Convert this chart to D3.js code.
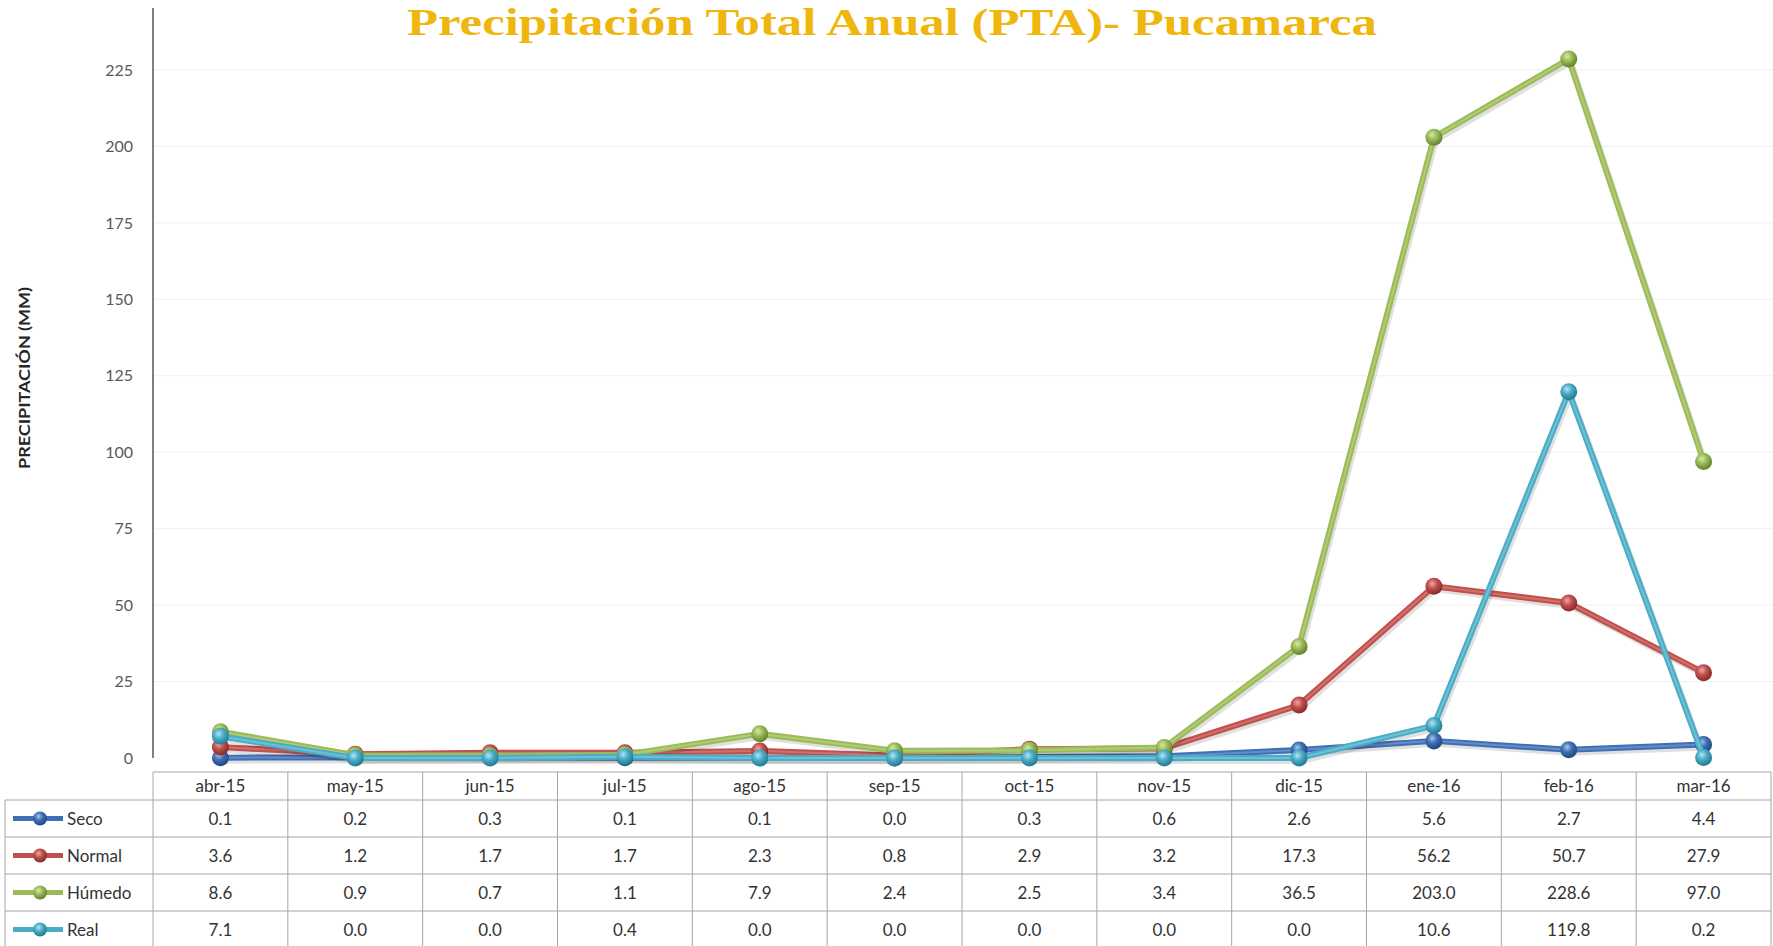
<!DOCTYPE html>
<html>
<head>
<meta charset="utf-8">
<script src="https://cdn.jsdelivr.net/npm/d3@7"></script>
<style>
  body { margin: 0; background: #fff; }
  svg { display: block; }
</style>
</head>
<body>
<svg id="chart" width="1773" height="946"></svg>
<script>
// data
var months = ['abr-15', 'may-15', 'jun-15', 'jul-15', 'ago-15', 'sep-15', 'oct-15', 'nov-15', 'dic-15', 'ene-16', 'feb-16', 'mar-16'];
var seco   = [0.1, 0.2, 0.3, 0.1, 0.1, 0.0, 0.3, 0.6, 2.6, 5.6, 2.7, 4.4];
var normal = [3.6, 1.2, 1.7, 1.7, 2.3, 0.8, 2.9, 3.2, 17.3, 56.2, 50.7, 27.9];
var humedo = [8.6, 0.9, 0.7, 1.1, 7.9, 2.4, 2.5, 3.4, 36.5, 203.0, 228.6, 97.0];
var real   = [7.1, 0.0, 0.0, 0.4, 0.0, 0.0, 0.0, 0.0, 0.0, 10.6, 119.8, 0.2];
var yTicks = [0, 25, 50, 75, 100, 125, 150, 175, 200, 225];

var seriesNames  = ['Seco', 'Normal', 'Húmedo', 'Real'];
var seriesColors = ['#3f6fb4', '#c0504d', '#9bbb59', '#4bacc6'];
var seriesDark   = ['#24467e', '#862a28', '#62802c', '#237a93'];
var seriesLight  = ['#a9c4ee', '#f0a8a6', '#d6eaa5', '#b3e6f4'];
var seriesValues = [seco, normal, humedo, real];

var series = seriesNames.map(function (n, i) {
	return { name: n, color: seriesColors[i], dark: seriesDark[i], light: seriesLight[i], values: seriesValues[i], id: i };
});

var svg = d3.select('svg#chart');
var W = 1773;

var plotLeft = 153, plotRight = 1771;
var x = d3.scaleBand().domain(months).range([plotLeft, plotRight]);
var y = d3.scaleLinear().domain([0, 225]).range([758, 70]);

// sphere gradients for markers
var defs = svg.append('defs');
series.forEach(function (s) {
	var g = defs.append('radialGradient')
		.attr('id', 'ball' + s.id)
		.attr('cx', '40%').attr('cy', '35%').attr('r', '65%');
	g.append('stop').attr('offset', '0%').attr('stop-color', s.light);
	g.append('stop').attr('offset', '45%').attr('stop-color', s.color);
	g.append('stop').attr('offset', '100%').attr('stop-color', s.dark);
});

// title (condensed serif look)
svg.append('text')
	.attr('x', 892)
	.attr('y', 35)
	.attr('text-anchor', 'middle')
	.attr('textLength', 970)
	.attr('lengthAdjust', 'spacingAndGlyphs')
	.style('font-family', '"Liberation Serif", "DejaVu Serif", serif')
	.style('font-weight', 'bold')
	.style('font-size', '38px')
	.style('fill', '#efb60e')
	.text('Precipitación Total Anual (PTA)- Pucamarca');

// gridlines
svg.append('g')
	.selectAll('line')
	.data(yTicks.filter(function (d) { return d > 0; }))
	.enter()
	.append('line')
	.attr('x1', plotLeft).attr('x2', W)
	.attr('y1', function (d) { return y(d); })
	.attr('y2', function (d) { return y(d); })
	.style('stroke', '#f0f0f0')
	.style('stroke-width', 1);

// y axis
var yAxis = d3.axisLeft(y).tickValues(yTicks).tickSize(0).tickPadding(20);
var gy = svg.append('g')
	.attr('transform', 'translate(' + plotLeft + ',0)')
	.call(yAxis);
gy.select('.domain').remove();
gy.selectAll('text')
	.style('font-family', 'Lato, "Open Sans", sans-serif')
	.style('font-size', '16px')
	.style('fill', '#595959');

svg.append('line')
	.attr('x1', plotLeft).attr('x2', plotLeft)
	.attr('y1', 8).attr('y2', y(0))
	.style('stroke', '#7f7f7f')
	.style('stroke-width', 2);

svg.append('text')
	.attr('transform', 'translate(30,' + 378 + ') rotate(-90)')
	.attr('text-anchor', 'middle')
	.attr('textLength', 182)
	.attr('lengthAdjust', 'spacingAndGlyphs')
	.style('font-family', 'Lato, "Open Sans", sans-serif')
	.style('font-weight', 'bold')
	.style('font-size', '15px')
	.style('fill', '#262626')
	.text('PRECIPITACIÓN (MM)');

// lines
var line = d3.line()
	.x(function (d, i) { return x(months[i]) + x.bandwidth() / 2; })
	.y(function (d) { return y(d); });

var groups = svg.selectAll('g.serie')
	.data(series)
	.enter()
	.append('g')
	.attr('class', 'serie');

groups.append('path')
	.attr('d', function (s) { return line(s.values); })
	.attr('transform', 'translate(2,3)')
	.style('fill', 'none')
	.style('stroke', '#000')
	.style('stroke-opacity', 0.12)
	.style('stroke-width', 6);

groups.append('path')
	.attr('d', function (s) { return line(s.values); })
	.style('fill', 'none')
	.style('stroke', function (s) { return s.color; })
	.style('stroke-width', 6)
	.style('stroke-linejoin', 'round');

groups.append('path')
	.attr('d', function (s) { return line(s.values); })
	.style('fill', 'none')
	.style('stroke', function (s) { return s.light; })
	.style('stroke-opacity', 0.35)
	.style('stroke-width', 2);

groups.selectAll('circle')
	.data(function (s) { return s.values.map(function (v, i) { return { v: v, i: i, s: s }; }); })
	.enter()
	.append('circle')
	.attr('cx', function (d) { return x(months[d.i]) + x.bandwidth() / 2; })
	.attr('cy', function (d) { return y(d.v); })
	.attr('r', 8.5)
	.style('fill', function (d) { return 'url(#ball' + d.s.id + ')'; });

// data table
var tableTop = 772, headH = 28, rowH = 37, legendLeft = 5;
var tbl = svg.append('g');
var borderColor = '#a6a6a6';
var tfont = 'Lato, "Open Sans", sans-serif';

// header row
tbl.append('line')
	.attr('x1', plotLeft).attr('x2', plotRight)
	.attr('y1', tableTop).attr('y2', tableTop)
	.style('stroke', borderColor);

tbl.selectAll('text.head')
	.data(months)
	.enter()
	.append('text')
	.attr('class', 'head')
	.attr('x', function (d) { return x(d) + x.bandwidth() / 2; })
	.attr('y', tableTop + headH / 2 + 6)
	.attr('text-anchor', 'middle')
	.style('font-family', tfont)
	.style('font-size', '17px')
	.style('fill', '#333')
	.text(function (d) { return d; });

// horizontal rules for data rows
tbl.selectAll('line.row')
	.data(d3.range(series.length + 1))
	.enter()
	.append('line')
	.attr('class', 'row')
	.attr('x1', legendLeft).attr('x2', plotRight)
	.attr('y1', function (d) { return tableTop + headH + d * rowH; })
	.attr('y2', function (d) { return tableTop + headH + d * rowH; })
	.style('stroke', borderColor);

// vertical rules
var vx = months.map(function (m) { return x(m); }).concat([plotRight]);
tbl.selectAll('line.col')
	.data(vx)
	.enter()
	.append('line')
	.attr('class', 'col')
	.attr('x1', function (d) { return d; }).attr('x2', function (d) { return d; })
	.attr('y1', tableTop)
	.attr('y2', tableTop + headH + series.length * rowH)
	.style('stroke', borderColor);

tbl.append('line')
	.attr('x1', legendLeft).attr('x2', legendLeft)
	.attr('y1', tableTop + headH)
	.attr('y2', tableTop + headH + series.length * rowH)
	.style('stroke', borderColor);

// rows
var rows = tbl.selectAll('g.trow')
	.data(series)
	.enter()
	.append('g')
	.attr('class', 'trow')
	.attr('transform', function (s, i) { return 'translate(0,' + (tableTop + headH + i * rowH + rowH / 2) + ')'; });

rows.append('line')
	.attr('x1', 13).attr('x2', 63)
	.attr('y1', 0).attr('y2', 0)
	.style('stroke', function (s) { return s.color; })
	.style('stroke-width', 5);

rows.append('circle')
	.attr('cx', 40).attr('cy', 0).attr('r', 7)
	.style('fill', function (s) { return 'url(#ball' + s.id + ')'; });

rows.append('text')
	.attr('x', 67)
	.attr('y', 6)
	.style('font-family', tfont)
	.style('font-size', '17px')
	.style('fill', '#333')
	.text(function (s) { return s.name; });

rows.selectAll('text.val')
	.data(function (s) { return s.values; })
	.enter()
	.append('text')
	.attr('class', 'val')
	.attr('x', function (d, i) { return x(months[i]) + x.bandwidth() / 2; })
	.attr('y', 6)
	.attr('text-anchor', 'middle')
	.style('font-family', tfont)
	.style('font-size', '17px')
	.style('fill', '#333')
	.text(function (d) { return d3.format('.1f')(d); });
</script>
</body>
</html>
